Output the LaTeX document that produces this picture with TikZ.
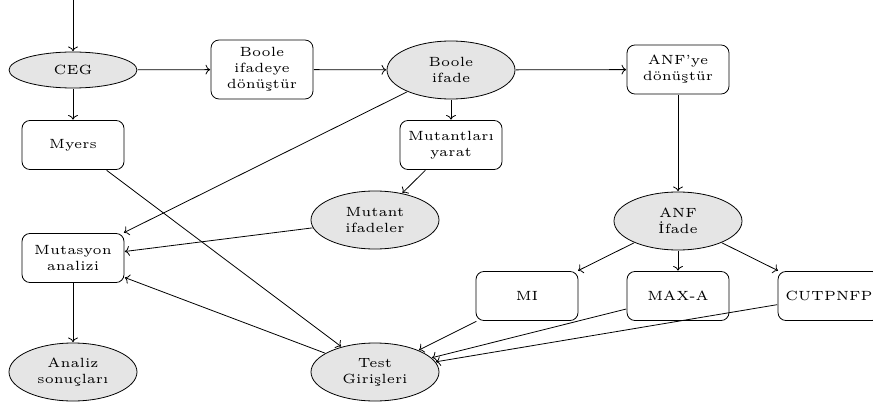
\documentclass[tikz,border=0pt]{standalone}
\usetikzlibrary{shapes.geometric,arrows.meta}
\newcommand{\diagScale}{2}

\begin{document}
\begin{tikzpicture}[scale=\diagScale, transform shape, x=0.375pt, y=-0.375pt]
  \tikzset{
    every node/.style={font=\tiny, align=center},
    stepbox/.style={draw, line width=0.6pt, rounded corners=6pt, minimum width=38.25pt, minimum height=18.4pt, inner sep=1pt},
    datanode/.style={draw, line width=0.6pt, ellipse, fill=black!10, minimum width=48pt, minimum height=21.75pt, inner sep=1pt},
    flow/.style={line width=0.6pt, -{To[scale=1.2]}}
  }
  \useasboundingbox (0,0) rectangle (873,406);
  \coordinate (entry) at (73,0);
  % first row
  \node[datanode, minimum height=13.5pt] (ceg) at (73,70) {CEG};
  \node[stepbox, minimum height=22.1pt] (toBool) at (262,69.5) {Boole\\ifadeye\\dönüştür};
  \node[datanode] (boolExp) at (451,70) {Boole\\ifade};
  \node[stepbox] (toAnf) at (678,69.5) {ANF'ye\\dönüştür};
  % middle
  \node[stepbox] (myers) at (73,145) {Myers};
  \node[stepbox] (mutGen) at (451,145) {Mutantları\\yarat};
  \node[datanode] (mutExp) at (375,220) {Mutant\\ifadeler};
  \node[stepbox] (mutAn) at (73,258) {Mutasyon\\analizi};
  \node[datanode] (anf) at (678,221) {ANF\\İfade};
  \node[stepbox] (mi) at (527,296) {MI};
  \node[stepbox] (maxA) at (678,296) {MAX-A};
  \node[stepbox] (cut) at (829,296) {CUTPNFP};
  % bottom
  \node[datanode] (result) at (73,372) {Analiz\\sonuçları};
  \node[datanode] (test) at (375,372) {Test\\Girişleri};

  \draw[flow] (entry) -- (ceg);
  \draw[flow] (ceg) -- (toBool);
  \draw[flow] (toBool) -- (boolExp);
  \draw[flow] (boolExp) -- (toAnf);
  \draw[flow] (ceg) -- (myers);
  \draw[flow] (boolExp) -- (mutGen);
  \draw[flow] (boolExp) -- (mutAn);
  \draw[flow] (mutGen) -- (mutExp);
  \draw[flow] (mutExp) -- (mutAn);
  \draw[flow] (myers) -- (test);
  \draw[flow] (test) -- (mutAn);
  \draw[flow] (mutAn) -- (result);
  \draw[flow] (toAnf) -- (anf);
  \draw[flow] (anf) -- (mi);
  \draw[flow] (anf) -- (maxA);
  \draw[flow] (anf) -- (cut);
  \draw[flow] (mi) -- (test);
  \draw[flow] (maxA) -- (test);
  \draw[flow] (cut) -- (test);
\end{tikzpicture}
\end{document}
